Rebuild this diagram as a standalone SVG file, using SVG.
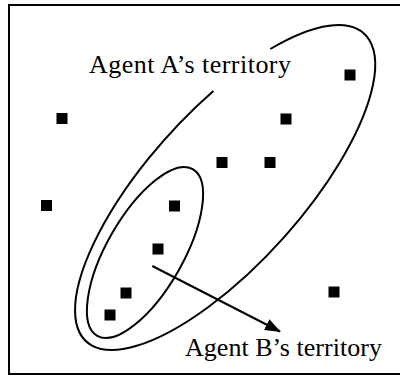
<svg xmlns="http://www.w3.org/2000/svg" width="400" height="376" viewBox="0 0 400 376">
<style>
.frame{fill:none;stroke:#000;stroke-width:2}
.terr{fill:none;stroke:#000;stroke-width:2}
.pt{fill:#000}
.lbl{font-family:"Liberation Serif","Times New Roman",serif;font-size:26px;fill:#000}
.conn{fill:none;stroke:#000;stroke-width:2}
</style>
<defs>
<marker id="ah" viewBox="0 0 16 12" refX="15" refY="6" markerWidth="16" markerHeight="12" markerUnits="userSpaceOnUse" orient="auto">
<path d="M0,0 L16,6 L0,12 Z" fill="#000"/>
</marker>
</defs>
<rect class="frame" x="9" y="5" width="393" height="369"/>
<g id="territory-a">
<path class="terr" d="M213.4,90.9 A207.3,77.1 -48 1 0 270.3,49"/>
<text class="lbl" x="89" y="73" textLength="202" lengthAdjust="spacing">Agent A’s territory</text>
</g>
<g id="territory-b">
<ellipse class="terr" cx="145" cy="252.5" rx="96" ry="38.1" transform="rotate(-60.2 145 252.5)"/>
<text class="lbl" x="185" y="356" textLength="197" lengthAdjust="spacing">Agent B’s territory</text>
</g>
<g id="points">
<rect class="pt" x="344.5" y="69.5" width="11" height="11"/>
<rect class="pt" x="56.5" y="113" width="11" height="11"/>
<rect class="pt" x="280.5" y="113.5" width="11" height="11"/>
<rect class="pt" x="216.5" y="157" width="11" height="11"/>
<rect class="pt" x="264.5" y="157" width="11" height="11"/>
<rect class="pt" x="41" y="200" width="11" height="11"/>
<rect class="pt" x="169" y="200.5" width="11" height="11"/>
<rect class="pt" x="152.5" y="243.5" width="11" height="11"/>
<rect class="pt" x="120.5" y="287.5" width="11" height="11"/>
<rect class="pt" x="104.5" y="309.5" width="11" height="11"/>
<rect class="pt" x="328.5" y="286.5" width="11" height="11"/>
</g>
<g id="connectors">
<line class="conn" x1="152.3" y1="266" x2="280" y2="331.5" marker-end="url(#ah)"/>
</g>
</svg>
